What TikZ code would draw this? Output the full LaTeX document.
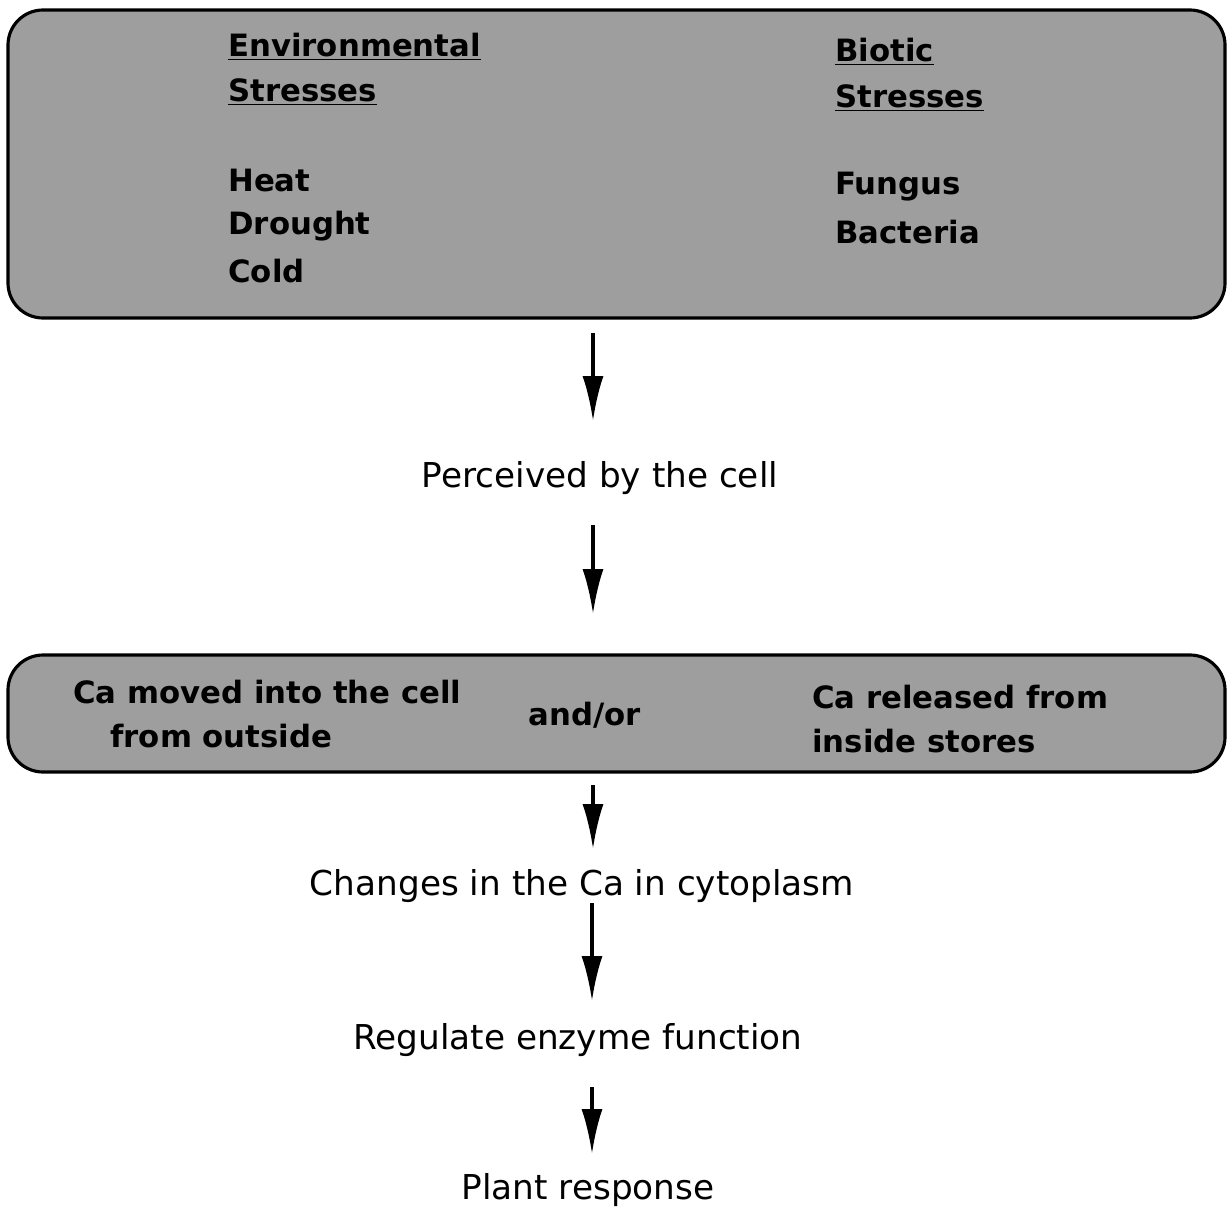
\documentclass[tikz,border=0pt]{standalone}
\usepackage{fontspec}
\setmainfont{DejaVu Sans}
\usetikzlibrary{arrows.meta}

\tikzset{
  stressbox/.style={draw=black, line width=1.8pt, fill=black!38, rounded corners=0.7cm},
  boxtext/.style={anchor=west, font=\bfseries\fontsize{17.5}{20}\selectfont, inner sep=0pt},
  steptext/.style={anchor=center, font=\fontsize{19.5}{22}\selectfont, inner sep=2pt},
  flow/.style={line width=2pt, -{Latex[length=0.9cm, width=0.42cm]}}
}

\begin{document}
\begin{tikzpicture}[x=0.02cm, y=-0.02cm]
\useasboundingbox (0,0) rectangle (1227,1210);

% top box: the two kinds of stress
\draw[stressbox] (8,10) rectangle (1225,318);
\node[boxtext] (env1) at (228,47) {\underline{Environmental}};
\node[boxtext] (env2) at (228,92) {\underline{Stresses}};
\node[boxtext] (heat) at (228,181) {Heat};
\node[boxtext] (drought) at (228,226) {Drought};
\node[boxtext] (cold) at (228,271) {Cold};
\node[boxtext] (bio1) at (835,52) {\underline{Biotic}};
\node[boxtext] (bio2) at (835,98) {\underline{Stresses}};
\node[boxtext] (fungus) at (835,187) {Fungus};
\node[boxtext] (bacteria) at (835,232) {Bacteria};

% steps
\node[steptext] (perceived) at (600,478) {Perceived by the cell};

\draw[stressbox] (8,655) rectangle (1225,772);
\node[boxtext] (camoved) at (73,692) {Ca moved into the cell};
\node[boxtext] (outside) at (110,736) {from outside};
\node[boxtext, anchor=center] (andor) at (585,715) {and/or};
\node[boxtext] (careleased) at (812,697) {Ca released from};
\node[boxtext] (stores) at (812,741) {inside stores};

\node[steptext] (changes) at (582,886) {Changes in the Ca in cytoplasm};
\node[steptext] (regulate) at (578,1040) {Regulate enzyme function};
\node[steptext] (response) at (588,1190) {Plant response};

% arrows
\coordinate (a1s) at (593,333);
\coordinate (a1e) at (593,421);
\coordinate (a2s) at (593,525);
\coordinate (a2e) at (593,614);
\coordinate (a3s) at (593,785);
\coordinate (a3e) at (593,849);
\coordinate (a4s) at (592,903);
\coordinate (a4e) at (592,1001);
\coordinate (a5s) at (592,1087);
\coordinate (a5e) at (592,1154);
\draw[flow] (a1s) -- (a1e);
\draw[flow] (a2s) -- (a2e);
\draw[flow] (a3s) -- (a3e);
\draw[flow] (a4s) -- (a4e);
\draw[flow] (a5s) -- (a5e);

\end{tikzpicture}
\end{document}
